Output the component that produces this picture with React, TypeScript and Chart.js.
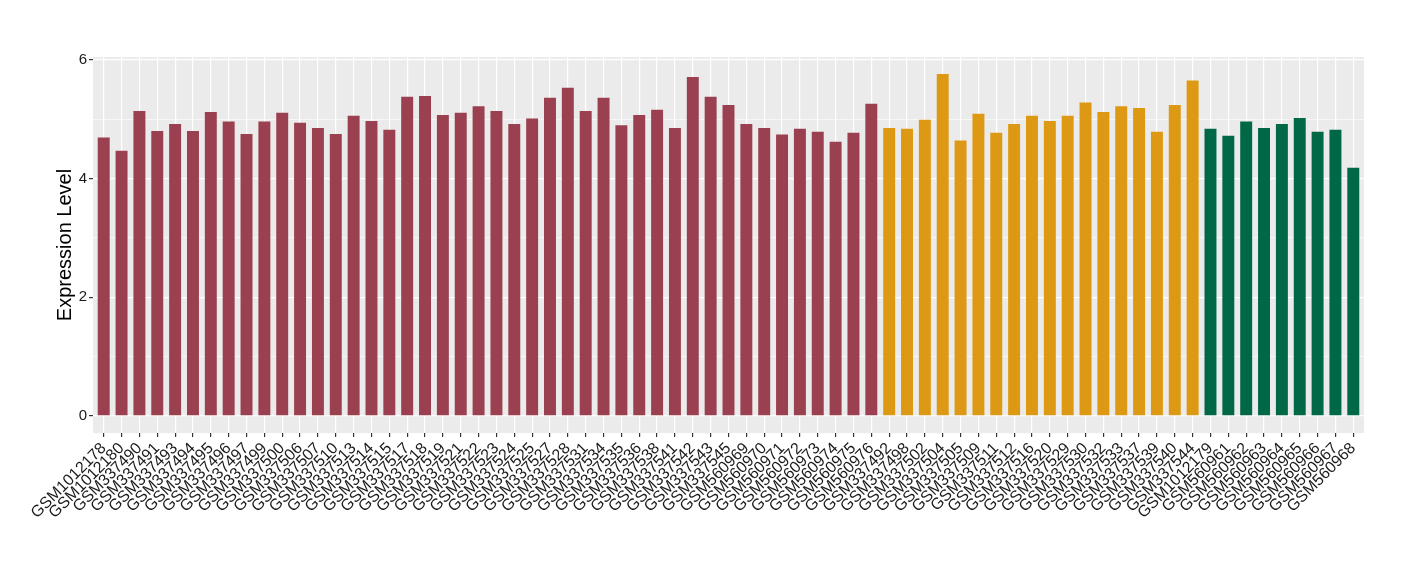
import React, { useEffect, useRef } from "react";
import { Chart, registerables } from "chart.js";

Chart.register(...registerables);

const group1Samples = [
  "GSM1012178", "GSM1012180", "GSM337490", "GSM337491", "GSM337493", "GSM337494",
  "GSM337495", "GSM337496", "GSM337497", "GSM337499", "GSM337500", "GSM337506",
  "GSM337507", "GSM337510", "GSM337513", "GSM337514", "GSM337515", "GSM337517",
  "GSM337518", "GSM337519", "GSM337521", "GSM337522", "GSM337523", "GSM337524",
  "GSM337525", "GSM337527", "GSM337528", "GSM337531", "GSM337534", "GSM337535",
  "GSM337536", "GSM337538", "GSM337541", "GSM337542", "GSM337543", "GSM337545",
  "GSM560969", "GSM560970", "GSM560971", "GSM560972", "GSM560973", "GSM560974",
  "GSM560975", "GSM560976",
];
const group1Values = [
  4.69, 4.47, 5.14, 4.80, 4.92, 4.80, 5.12, 4.96, 4.75, 4.96, 5.11, 4.94,
  4.85, 4.75, 5.06, 4.97, 4.82, 5.38, 5.39, 5.07, 5.11, 5.22, 5.14, 4.92,
  5.01, 5.36, 5.53, 5.14, 5.36, 4.90, 5.07, 5.16, 4.85, 5.71, 5.38, 5.24,
  4.92, 4.85, 4.74, 4.84, 4.79, 4.62, 4.77, 5.26,
];

const group2Samples = [
  "GSM337492", "GSM337498", "GSM337502", "GSM337504", "GSM337505", "GSM337509",
  "GSM337511", "GSM337512", "GSM337516", "GSM337520", "GSM337529", "GSM337530",
  "GSM337532", "GSM337533", "GSM337537", "GSM337539", "GSM337540", "GSM337544",
];
const group2Values = [
  4.85, 4.84, 4.99, 5.76, 4.64, 5.09, 4.77, 4.92, 5.06, 4.97, 5.06, 5.28,
  5.12, 5.22, 5.19, 4.79, 5.24, 5.65,
];

const group3Samples = [
  "GSM1012179", "GSM560961", "GSM560962", "GSM560963", "GSM560964",
  "GSM560965", "GSM560966", "GSM560967", "GSM560968",
];
const group3Values = [4.84, 4.72, 4.96, 4.85, 4.92, 5.02, 4.79, 4.82, 4.18];

const groupColors = ["#9A4050", "#DD9913", "#006747"];
const yTickValues = [0, 2, 4, 6];
const yMinorValues = [1, 3, 5];
const yAxisTitle = "Expression Level";

const FONT = "'Liberation Sans', Arial, Helvetica, sans-serif";

export default function App() {
  const ref = useRef<HTMLCanvasElement | null>(null);

  useEffect(() => {
    const samples = [...group1Samples, ...group2Samples, ...group3Samples];
    const values = [...group1Values, ...group2Values, ...group3Values];
    const colors = [
      ...group1Samples.map(() => groupColors[0]),
      ...group2Samples.map(() => groupColors[1]),
      ...group3Samples.map(() => groupColors[2]),
    ];
    const points = values.map((v, i) => ({ x: i, y: v }));
    const maxV = Math.max(...values);
    const pad = maxV * 0.05;
    const isMajor = (v: number) => yTickValues.includes(v);

    const panelBg = {
      id: "panelBg",
      beforeDraw(chart: any) {
        const { ctx, chartArea: a } = chart;
        ctx.save();
        ctx.fillStyle = "#EBEBEB";
        ctx.fillRect(a.left, a.top, a.right - a.left, a.bottom - a.top);
        ctx.restore();
      },
    };

    const chart = new Chart(ref.current as HTMLCanvasElement, {
      type: "bar",
      data: {
        datasets: [
          {
            data: points as any,
            backgroundColor: colors,
            barPercentage: 0.67,
            categoryPercentage: 1,
          },
        ],
      },
      options: {
        animation: false,
        responsive: false,
        maintainAspectRatio: false,
        layout: { padding: { left: 0, right: 56, top: 57, bottom: 0 } },
        plugins: { legend: { display: false }, tooltip: { enabled: false } },
        scales: {
          x: {
            type: "linear",
            bounds: "data",
            min: -0.6,
            max: samples.length - 0.4,
            offset: false,
            border: { display: false },
            grid: {
              offset: false,
              color: "#FFFFFF",
              lineWidth: 1.2,
              tickColor: "#333333",
              tickLength: 4,
              drawTicks: true,
            },
            afterBuildTicks(s: any) {
              s.ticks = samples.map((_, i) => ({ value: i }));
            },
            ticks: {
              autoSkip: false,
              minRotation: 45,
              maxRotation: 45,
              padding: 2,
              color: "#1A1A1A",
              font: { family: FONT, size: 16 },
              callback: (v: any) => samples[Number(v)] ?? "",
            },
            afterFit(s: any) {
              s.height = 147;
            },
          },
          y: {
            type: "linear",
            bounds: "data",
            min: -pad,
            max: maxV + pad,
            border: { display: false },
            grid: {
              offset: false,
              color: "#FFFFFF",
              lineWidth: (c: any) => (c.tick && isMajor(c.tick.value) ? 1.2 : 0.6),
              tickColor: (c: any) =>
                c.tick && isMajor(c.tick.value) ? "#333333" : "rgba(0,0,0,0)",
              tickLength: 4,
              drawTicks: true,
            },
            afterBuildTicks(s: any) {
              s.ticks = [...yTickValues, ...yMinorValues]
                .sort((a, b) => a - b)
                .map((v) => ({ value: v }));
            },
            ticks: {
              padding: 2,
              color: "#1A1A1A",
              font: { family: FONT, size: 15 },
              callback: (v: any) => (isMajor(Number(v)) ? String(v) : ""),
            },
            title: {
              display: true,
              text: yAxisTitle,
              color: "#000000",
              font: { family: FONT, size: 20 },
              padding: { top: 53, bottom: 0 },
            },
            afterFit(s: any) {
              s.width = 93;
            },
          },
        },
      },
      plugins: [panelBg],
    });

    return () => chart.destroy();
  }, []);

  return (
    <div
      style={{
        position: "fixed",
        left: 0,
        top: 0,
        width: 1420,
        height: 580,
        background: "#FFFFFF",
      }}
    >
      <canvas ref={ref} width={1420} height={580} style={{ width: 1420, height: 580, display: "block" }} />
    </div>
  );
}
